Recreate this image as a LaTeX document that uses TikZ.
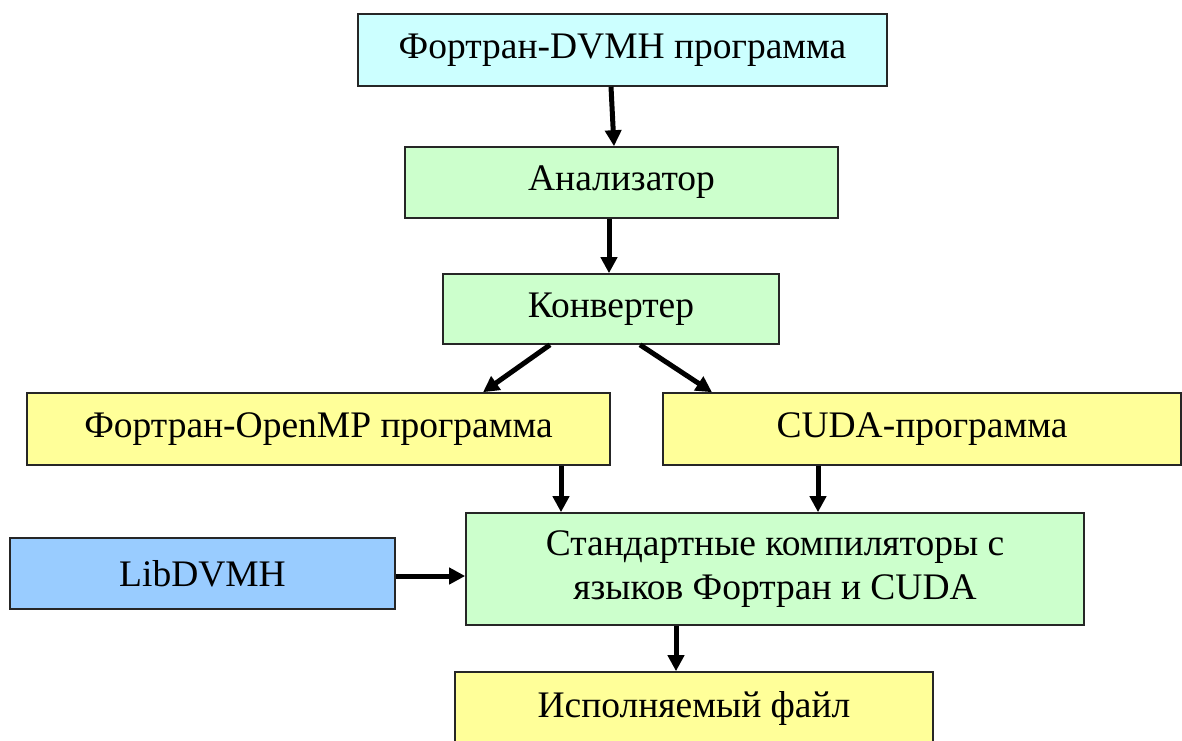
\documentclass[tikz,border=0pt]{standalone}
\usepackage{fontspec}
\setmainfont{Liberation Serif}
\usetikzlibrary{arrows.meta}
\definecolor{cCyan}{HTML}{CCFFFF}
\definecolor{cGreen}{HTML}{CCFFCC}
\definecolor{cYellow}{HTML}{FFFF99}
\definecolor{cBlue}{HTML}{99CCFF}
\tikzset{
  box/.style={draw=black!85, line width=1.6pt, inner sep=0pt, align=center,
    font=\fontsize{37.5}{44}\selectfont},
  arr/.style={line width=5pt, -{Triangle[length=16pt,width=16pt]}}
}
\begin{document}
\begin{tikzpicture}[x=1pt,y=-1pt]
\useasboundingbox (0,0) rectangle (1182,740);
\clip (0,0) rectangle (1182,740);
\node[box, fill=cCyan, minimum width=529pt, minimum height=72pt] (b1) at (622.5,50) {Фортран-DVMH программа};
\node[box, fill=cGreen, minimum width=433pt, minimum height=71pt] (b2) at (621.5,182.5) {Анализатор};
\node[box, fill=cGreen, minimum width=336pt, minimum height=70pt] (b3) at (611,309) {Конвертер};
\node[box, fill=cYellow, minimum width=583pt, minimum height=72pt] (b4) at (318.5,429) {Фортран-OpenMP программа};
\node[box, fill=cYellow, minimum width=518pt, minimum height=72pt] (b5) at (922,429) {CUDA-программа};
\node[box, fill=cGreen, minimum width=618pt, minimum height=112pt] (b6) at (775,569) {Стандартные компиляторы с\\языков Фортран и CUDA};
\node[box, fill=cBlue, minimum width=385pt, minimum height=71pt] (b7) at (202.5,573.5) {LibDVMH};
\node[box, fill=cYellow, minimum width=478pt, minimum height=72pt] (b8) at (694,708) {Исполняемый файл};

\draw[arr] ([xshift=-11.5pt]b1.south) -- ([xshift=-7.5pt]b2.north);
\draw[arr] ([xshift=-12.5pt]b2.south) -- ([xshift=-2pt]b3.north);
\draw[arr] ([xshift=-61pt]b3.south) -- ([xshift=164.5pt]b4.north);
\draw[arr] ([xshift=29pt]b3.south) -- ([xshift=-210pt]b5.north);
\draw[arr] ([xshift=242.5pt]b4.south) -- ([xshift=-214pt]b6.north);
\draw[arr] ([xshift=-104pt]b5.south) -- ([xshift=43pt]b6.north);
\draw[arr] ([yshift=-2.5pt]b7.east) -- ([yshift=-2.5pt]b7.east -| b6.west);
\draw[arr] ([xshift=-99pt]b6.south) -- ([xshift=-18pt]b8.north);
\end{tikzpicture}
\end{document}
